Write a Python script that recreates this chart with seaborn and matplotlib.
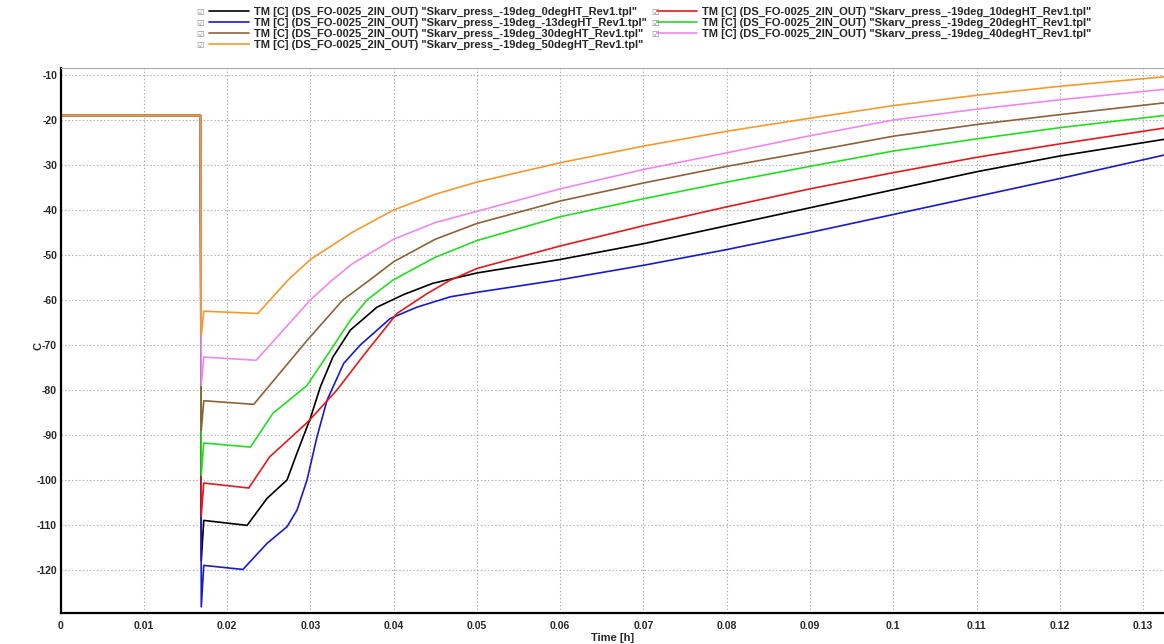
import pandas as pd
import matplotlib
matplotlib.use('Agg')
import matplotlib.pyplot as plt
import seaborn as sns

# Curvas (tiempo [h], temperatura [C])
x_0deg = [0, 0.0168, 0.0169, 0.0172, 0.0224, 0.0248, 0.0272, 0.0284, 0.030, 0.0312, 0.0327, 0.0348,
          0.038, 0.0412, 0.0447, 0.05, 0.06, 0.07, 0.08, 0.09, 0.10, 0.11, 0.12, 0.1325]
y_0deg = [-19, -19, -118, -109, -110.1, -104.1, -100, -94, -86.3, -79.3, -72.7, -66.7,
          -61.6, -58.8, -56.3, -54.0, -51, -47.5, -43.5, -39.5, -35.5, -31.5, -28, -24.3]

x_m13deg = [0, 0.0168, 0.0169, 0.0172, 0.0219, 0.0248, 0.0272, 0.0284, 0.0296, 0.0308, 0.032, 0.034,
            0.036, 0.0396, 0.0428, 0.0468, 0.05, 0.06, 0.07, 0.08, 0.09, 0.1, 0.11, 0.12, 0.1325]
y_m13deg = [-19, -19, -128.2, -119, -119.9, -114.1, -110.4, -106.7, -100, -90.4, -82.3, -74.1,
            -70, -64.1, -61.6, -59.3, -58.3, -55.5, -52.3, -48.8, -45, -41, -37, -33, -27.8]

x_10deg = [0, 0.0168, 0.0169, 0.0172, 0.0226, 0.0251, 0.0297, 0.0332, 0.0364, 0.0404, 0.044,
           0.0468, 0.05, 0.06, 0.07, 0.08, 0.09, 0.1, 0.11, 0.12, 0.1325]
y_10deg = [-19, -19, -108, -100.7, -101.8, -94.9, -87.1, -80, -72.3, -63, -58.6,
           -55.6, -53, -48, -43.5, -39.3, -35.3, -31.7, -28.3, -25.3, -21.8]

x_20deg = [0, 0.0168, 0.0169, 0.0172, 0.0228, 0.0255, 0.0296, 0.0327, 0.0348, 0.0368, 0.0399,
           0.045, 0.05, 0.06, 0.07, 0.08, 0.09, 0.1, 0.11, 0.12, 0.1325]
y_20deg = [-19, -19, -99, -91.8, -92.7, -85.2, -79, -70.4, -64.5, -60, -55.6,
           -50.5, -46.8, -41.5, -37.5, -33.8, -30.3, -26.9, -24.2, -21.7, -19]

x_30deg = [0, 0.0168, 0.0169, 0.0172, 0.0232, 0.0296, 0.0339, 0.0371, 0.04, 0.045, 0.05,
           0.06, 0.07, 0.08, 0.09, 0.1, 0.11, 0.12, 0.1325]
y_30deg = [-19, -19, -89, -82.4, -83.2, -69, -60, -55.6, -51.5, -46.5, -43,
           -38, -34, -30.3, -27, -23.6, -21, -18.8, -16.2]

x_40deg = [0, 0.0168, 0.0169, 0.0172, 0.0235, 0.030, 0.0326, 0.035, 0.04, 0.045, 0.05,
           0.06, 0.07, 0.08, 0.09, 0.1, 0.11, 0.12, 0.1325]
y_40deg = [-19, -19, -79, -72.7, -73.4, -60, -55.6, -52, -46.5, -42.8, -40.3,
           -35.3, -31, -27.3, -23.5, -20, -17.6, -15.5, -13.2]

x_50deg = [0, 0.0168, 0.0169, 0.0172, 0.0237, 0.0273, 0.03, 0.035, 0.04, 0.045, 0.05,
           0.06, 0.07, 0.08, 0.09, 0.1, 0.11, 0.12, 0.1325]
y_50deg = [-19, -19, -68, -62.5, -63, -55.6, -51, -45, -40, -36.5, -33.8,
           -29.5, -25.8, -22.5, -19.6, -16.8, -14.5, -12.5, -10.4]

casos = ['0deg', '-13deg', '30deg', '50deg', '10deg', '20deg', '40deg']
colores = ['#000000', '#1a1acc', '#8c6239', '#f39a2e', '#e31a1a', '#22dd22', '#ee88ee']
series = {
    '0deg': (x_0deg, y_0deg), '-13deg': (x_m13deg, y_m13deg), '10deg': (x_10deg, y_10deg),
    '20deg': (x_20deg, y_20deg), '30deg': (x_30deg, y_30deg), '40deg': (x_40deg, y_40deg),
    '50deg': (x_50deg, y_50deg),
}

def etiqueta(c):
    return f'TM [C] (DS_FO-0025_2IN_OUT) "Skarv_press_-19deg_{c}HT_Rev1.tpl"'

partes = []
for c, (xs, ys) in series.items():
    partes.append(pd.DataFrame({'t': xs, 'T': ys, 'serie': etiqueta(c)}))
df = pd.concat(partes, ignore_index=True)

sns.set_style('white')
plt.rcParams['font.family'] = ['Liberation Sans', 'DejaVu Sans']
plt.rcParams['axes.unicode_minus'] = False

fig = plt.figure(figsize=(11.64, 6.44), dpi=100)
ax = fig.add_axes([0.052, 0.048, 0.948, 0.846])

paleta = {etiqueta(c): col for c, col in zip(casos, colores)}
orden_dibujo = [etiqueta(c) for c in ['0deg', '-13deg', '10deg', '20deg', '30deg', '40deg', '50deg']]
sns.lineplot(data=df, x='t', y='T', hue='serie', hue_order=orden_dibujo, palette=paleta,
             units='serie', estimator=None, sort=False, linewidth=1.2, ax=ax, legend=True)

ax.set_xlim(0, 0.1325)
ax.set_ylim(-129.6, -8.5)
ax.set_xticks([i / 100 for i in range(14)])
ax.set_xticklabels(['0'] + [f'{i / 100:g}' for i in range(1, 14)])
ax.set_yticks(range(-120, 0, 10))
ax.tick_params(length=0, labelsize=7.5)
ax.tick_params(axis='y', pad=2.5)
ax.tick_params(axis='x', pad=6)
for lab in ax.get_xticklabels() + ax.get_yticklabels():
    lab.set_fontweight('bold')
ax.grid(True, color='#aaaaaa', linestyle=(0, (1.2, 2)), linewidth=0.8)

ax.spines['left'].set_color('black')
ax.spines['left'].set_linewidth(1.6)
ax.spines['bottom'].set_color('black')
ax.spines['bottom'].set_linewidth(1.6)
ax.spines['top'].set_color('#aaaaaa')
ax.spines['right'].set_visible(False)

ax.set_xlabel('Time [h]', fontsize=8, fontweight='bold', labelpad=1)
ax.set_ylabel('C', fontsize=8, fontweight='bold')
ax.yaxis.set_label_coords(-0.015, 0.49)

# leyenda en el orden original (dos columnas)
h, l = ax.get_legend_handles_labels()
mapa = dict(zip(l, h))
orden_ley = [etiqueta(c) for c in casos]
ax.legend([mapa[k] for k in orden_ley], orden_ley, ncol=2, loc='upper left',
          bbox_to_anchor=(0.178, 1 - 5 / 644), bbox_transform=fig.transFigure, frameon=False,
          prop={'size': 8, 'weight': 'bold'}, handlelength=3.6, handletextpad=0.45,
          labelspacing=0.06, columnspacing=0.9, borderaxespad=0, borderpad=0.2)

# casillas de verificacion
for i in range(4):
    fig.text(0.172, 1 - (12 + 11 * i) / 644, '\u2611', fontsize=6, color='#888888',
             ha='center', va='center', family='DejaVu Sans')
for i in range(3):
    fig.text(0.563, 1 - (12 + 11 * i) / 644, '\u2611', fontsize=6, color='#888888',
             ha='center', va='center', family='DejaVu Sans')

plt.savefig('out.png', dpi=100)
plt.close()
